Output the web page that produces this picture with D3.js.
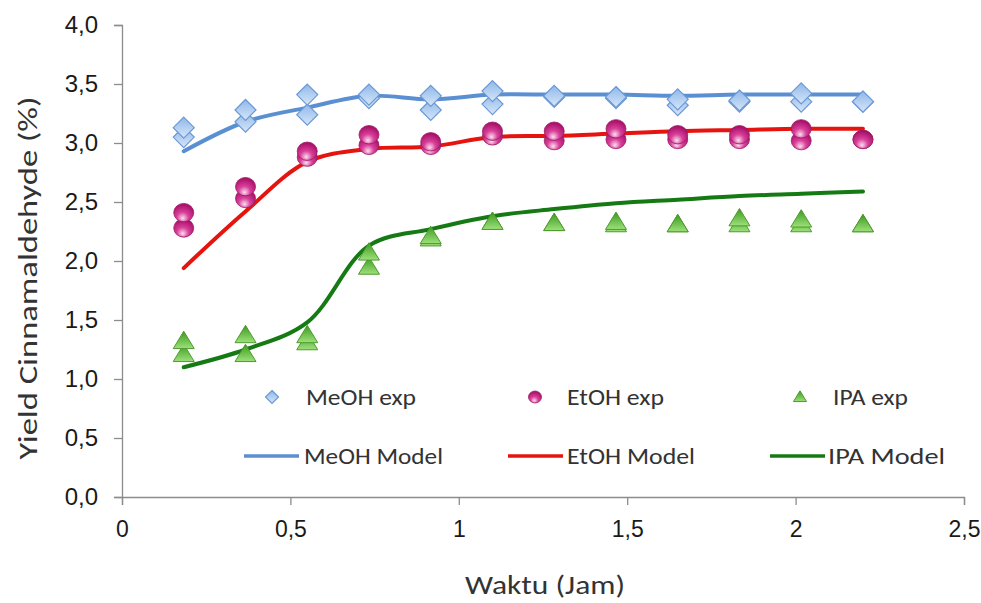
<!DOCTYPE html>
<html>
<head>
<meta charset="utf-8">
<script src="https://cdn.jsdelivr.net/npm/d3@7"></script>
<style>
  body { margin: 0; background: #fff; }
  svg { font-family: Calibri, Lato, "Open Sans", sans-serif; }
  .axis path, .axis line { stroke: #8c8c8c; stroke-width: 1.3; }
  .axis text { fill: #1a1a1a; }
</style>
</head>
<body>
<svg id="chart" width="981" height="603"></svg>
<script>
// sampling times (jam), every 11 minutes
const times = [0.1833, 0.3667, 0.55, 0.7333, 0.9167, 1.1, 1.2833, 1.4667, 1.65, 1.8333, 2.0167, 2.2];

// experimental replicates
const meohExpA = [3.13, 3.28, 3.41, 3.41, 3.40, 3.44, 3.40, 3.39, 3.37, 3.36, 3.42, 3.35];
const meohExpB = [3.05, 3.18, 3.24, 3.38, 3.28, 3.33, 3.39, 3.38, 3.32, 3.35, 3.35, 3.35];
const etohExpA = [2.41, 2.63, 2.93, 3.07, 3.01, 3.10, 3.10, 3.12, 3.07, 3.07, 3.12, 3.03];
const etohExpB = [2.28, 2.53, 2.88, 2.98, 2.98, 3.06, 3.02, 3.03, 3.03, 3.03, 3.02, 3.03];
const ipaExpA  = [1.32, 1.37, 1.37, 2.07, 2.21, 2.33, 2.32, 2.33, 2.31, 2.36, 2.35, 2.31];
const ipaExpB  = [1.21, 1.21, 1.31, 1.95, 2.19, 2.33, 2.32, 2.31, 2.31, 2.31, 2.31, 2.31];

// model curves
const meohModel = [2.93, 3.18, 3.30, 3.40, 3.37, 3.41, 3.41, 3.41, 3.40, 3.41, 3.41, 3.41];
const etohModel = [1.94, 2.42, 2.84, 2.95, 2.97, 3.05, 3.06, 3.08, 3.10, 3.11, 3.12, 3.12];
const ipaModel  = [1.10, 1.25, 1.48, 2.13, 2.27, 2.38, 2.44, 2.49, 2.52, 2.55, 2.57, 2.59];

const xTicks = [0, 0.5, 1, 1.5, 2, 2.5];
const yTicks = [0, 0.5, 1, 1.5, 2, 2.5, 3, 3.5, 4];

const svg = d3.select('#chart');
const x = d3.scaleLinear().domain([0, 2.5]).range([122, 964]);
const y = d3.scaleLinear().domain([0, 4]).range([497, 25]);
const comma = d => String(d).replace('.', ',');

// gradients for the markers
const defs = svg.append('defs');
const gEt = defs.append('radialGradient').attr('id', 'gEt')
  .attr('cx', '45%').attr('cy', '70%').attr('r', '65%').attr('fx', '45%').attr('fy', '82%');
gEt.append('stop').attr('offset', '0%').attr('stop-color', '#fbe0f0');
gEt.append('stop').attr('offset', '45%').attr('stop-color', '#d8409a');
gEt.append('stop').attr('offset', '100%').attr('stop-color', '#a80f68');
function linear(id, c0, c1) {
  const g = defs.append('linearGradient').attr('id', id).attr('x1', 0).attr('y1', 0).attr('x2', 0).attr('y2', 1);
  g.append('stop').attr('offset', '0%').attr('stop-color', c0);
  g.append('stop').attr('offset', '100%').attr('stop-color', c1);
}
linear('gMe', '#8fb8ea', '#d6e6f8');
linear('gIpa', '#3a9a1e', '#9ee07a');

// axes
svg.append('g').attr('class', 'axis')
  .attr('transform', `translate(0,${y(0)})`)
  .call(d3.axisBottom(x).tickValues(xTicks).tickFormat(comma).tickSize(8).tickPadding(16))
  .call(g => g.selectAll('text').attr('font-size', 23));

svg.append('g').attr('class', 'axis')
  .attr('transform', `translate(${x(0)},0)`)
  .call(d3.axisLeft(y).tickValues(yTicks).tickFormat(d => d3.format('.1f')(d).replace('.', ',')).tickSize(8).tickPadding(16))
  .call(g => g.selectAll('text').attr('font-size', 24));

// axis titles
svg.append('text').attr('x', 545).attr('y', 594).attr('text-anchor', 'middle')
  .attr('font-size', 26).attr('fill', '#333')
  .attr('textLength', 160).attr('lengthAdjust', 'spacingAndGlyphs').text('Waktu (Jam)');
svg.append('text').attr('transform', 'translate(37,278) rotate(-90)').attr('text-anchor', 'middle')
  .attr('font-size', 27).attr('fill', '#333')
  .attr('textLength', 363).attr('lengthAdjust', 'spacingAndGlyphs').text('Yield Cinnamaldehyde (%)');

// model lines
const line = d3.line().x((d, i) => x(times[i])).y(d => y(d)).curve(d3.curveCatmullRom.alpha(0.5));
const models = [
  { v: meohModel, c: '#5a8fd2' },
  { v: etohModel, c: '#e5140f' },
  { v: ipaModel, c: '#157a14' }
];
svg.append('g').selectAll('path').data(models).join('path')
  .attr('d', d => line(d.v)).attr('fill', 'none')
  .attr('stroke', d => d.c).attr('stroke-width', 4).attr('stroke-linecap', 'round');

// marker drawers
function diamond(g, s) {
  g.append('path').attr('d', `M0,${-s}L${s},0L0,${s}L${-s},0Z`)
    .attr('fill', 'url(#gMe)').attr('stroke', '#6b98d4').attr('stroke-width', 1.2);
}
function sphere(g, s) {
  g.append('ellipse').attr('rx', s).attr('ry', s * 0.92)
    .attr('fill', 'url(#gEt)').attr('stroke', '#9c1a64').attr('stroke-width', 0.8);
}
function triangle(g, s) {
  g.append('path').attr('d', `M0,${-s * 0.95}L${s},${s * 0.7}L${-s},${s * 0.7}Z`)
    .attr('fill', 'url(#gIpa)').attr('stroke', '#4e9a2e').attr('stroke-width', 1);
}

function points(vals, draw, s) {
  svg.append('g').selectAll('g').data(vals).join('g')
    .attr('transform', (d, i) => `translate(${x(times[i])},${y(d)})`)
    .each(function() { draw(d3.select(this), s); });
}
points(meohExpB, diamond, 10.5);
points(meohExpA, diamond, 10.5);
points(etohExpB, sphere, 10);
points(etohExpA, sphere, 10);
points(ipaExpB, triangle, 10.5);
points(ipaExpA, triangle, 10.5);

// legend
const legExp = [
  { label: 'MeOH exp', draw: diamond, mx: 272, tx: 306, w: 110 },
  { label: 'EtOH exp', draw: sphere, mx: 535, tx: 567, w: 97 },
  { label: 'IPA exp', draw: triangle, mx: 800, tx: 833, w: 75 }
];
legExp.forEach(d => {
  const g = svg.append('g').attr('transform', `translate(${d.mx},397)`);
  d.draw(g, 6.5);
  svg.append('text').attr('x', d.tx).attr('y', 405).attr('font-size', 23).attr('fill', '#333')
    .attr('textLength', d.w).attr('lengthAdjust', 'spacingAndGlyphs').text(d.label);
});
const legModel = [
  { label: 'MeOH Model', c: '#5a8fd2', x0: 244, tx: 304, w: 139 },
  { label: 'EtOH Model', c: '#e5140f', x0: 508, tx: 567, w: 128 },
  { label: 'IPA Model', c: '#157a14', x0: 770, tx: 828, w: 117 }
];
legModel.forEach(d => {
  svg.append('line').attr('x1', d.x0).attr('x2', d.x0 + 55).attr('y1', 456).attr('y2', 456)
    .attr('stroke', d.c).attr('stroke-width', 3.5);
  svg.append('text').attr('x', d.tx).attr('y', 464).attr('font-size', 23).attr('fill', '#333')
    .attr('textLength', d.w).attr('lengthAdjust', 'spacingAndGlyphs').text(d.label);
});
</script>
</body>
</html>
